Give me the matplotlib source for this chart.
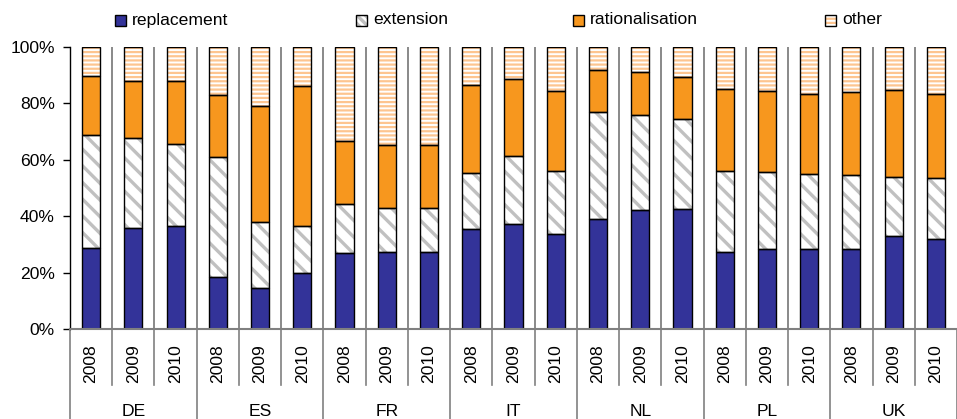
import matplotlib
matplotlib.use('Agg')
import matplotlib.pyplot as plt
import matplotlib.transforms as mtransforms
from matplotlib.patches import Rectangle
import numpy as np

plt.rcParams['font.family'] = ['Liberation Sans', 'DejaVu Sans']

countries = ['DE', 'ES', 'FR', 'IT', 'NL', 'PL', 'UK']
years = ['2008', '2009', '2010']

# shares in % per country/year, in the order DE..UK x 2008..2010
replacement = [28.6, 35.8, 36.6, 18.6, 14.7, 19.7, 26.9, 27.4, 27.4,
               35.4, 37.4, 33.7, 38.9, 42.1, 42.5, 27.4, 28.2, 28.5,
               28.2, 32.9, 31.8]
extension = [40.2, 31.8, 29.1, 42.3, 23.4, 16.9, 17.3, 15.5, 15.5,
             20.0, 24.0, 22.4, 38.2, 33.7, 31.8, 28.7, 27.6, 26.5,
             26.4, 21.0, 21.6]
rationalisation = [21.0, 20.2, 22.1, 22.1, 40.9, 49.4, 22.4, 22.5, 22.5,
                   31.3, 27.3, 28.2, 14.8, 15.4, 14.9, 29.0, 28.5, 28.5,
                   29.4, 30.8, 30.1]
other = [10.2, 12.2, 12.2, 17.0, 21.0, 14.0, 33.4, 34.6, 34.6,
         13.3, 11.3, 15.7, 8.1, 8.8, 10.8, 14.9, 15.7, 16.5,
         16.0, 15.3, 16.5]

# name, values, face, hatch colour, hatch, hatch linewidth, legend hatch
series = [
    ('replacement', replacement, '#333399', None, None, None, None),
    ('extension', extension, 'white', '#c0c0c0', '\\\\', 2.4, '\\\\\\\\'),
    ('rationalisation', rationalisation, '#f7971e', None, None, None, None),
    ('other', other, 'white', '#fdc590', '----', 1.6, '----'),
]


def hatched(make, hlw):
    with plt.rc_context({'hatch.linewidth': hlw}):
        artists = make()
    for a in artists:
        if hasattr(a, 'set_hatch_linewidth'):
            a.set_hatch_linewidth(hlw)
    return artists


fig = plt.figure(figsize=(9.57, 4.19), dpi=100)
ax = fig.add_axes([70 / 957, 1 - 329 / 419, 887 / 957, 282 / 419])

n = len(replacement)
x = np.arange(n)
width = 0.43
bottom = np.zeros(n)
for name, vals, face, hcolor, hatch, hlw, lhatch in series:
    vals = np.array(vals)
    if hatch:
        hatched(lambda: ax.bar(x, vals, width, bottom=bottom, color=face,
                               edgecolor=hcolor, hatch=hatch, linewidth=0,
                               zorder=3), hlw)
    else:
        ax.bar(x, vals, width, bottom=bottom, color=face, linewidth=0, zorder=3)
    ax.bar(x, vals, width, bottom=bottom, fill=False, edgecolor='black',
           linewidth=1.0, zorder=4)
    bottom += vals

ax.set_xlim(-0.5, n - 0.5)
ax.set_ylim(0, 100)

# separators between bars
for b in np.arange(0.5, n - 0.5, 1):
    ax.plot([b, b], [0, 100], color='#808080', lw=1.3, zorder=1)

for s in ['top', 'right', 'bottom']:
    ax.spines[s].set_visible(False)
ax.spines['left'].set_color('black')
ax.spines['left'].set_linewidth(1.0)
ax.axhline(0, color='#808080', lw=1.5, zorder=5, clip_on=False)

ax.set_yticks(np.arange(0, 101, 20))
ax.set_yticklabels([f'{v}%' for v in range(0, 101, 20)], fontsize=12.6)
ax.tick_params(axis='y', length=5, width=1, direction='out', pad=6)
ax.set_xticks([])

# two-level category axis below the plot
trans = mtransforms.blended_transform_factory(ax.transData, ax.transAxes)
for b in np.arange(-0.5, n + 0.5, 1):
    idx = int(b + 0.5)
    low = -0.33 if idx % 3 == 0 else -0.199
    ax.plot([b, b], [0, low], color='#808080', lw=1.2, transform=trans,
            clip_on=False)
for i in range(n):
    ax.text(i, -0.124, years[i % 3], rotation=90, ha='center', va='center',
            fontsize=12.6, transform=trans)
for g, c in enumerate(countries):
    ax.text(g * 3 + 1, -0.266, c, ha='center', va='top', fontsize=12.6,
            transform=trans)

# legend row
legend_x = [115, 356, 573, 825]
for (name, vals, face, hcolor, hatch, hlw, lhatch), lx in zip(series, legend_x):
    y0 = 1 - 26 / 419
    box = (lx / 957, y0)
    if hatch:
        p = hatched(lambda: [Rectangle(box, 11 / 957, 11 / 419,
                                       transform=fig.transFigure,
                                       facecolor=face, edgecolor=hcolor,
                                       hatch=lhatch, linewidth=0)], hlw)[0]
        fig.patches.append(p)
        fig.patches.append(Rectangle(box, 11 / 957, 11 / 419,
                                     transform=fig.transFigure, fill=False,
                                     edgecolor='black', linewidth=1.0))
    else:
        fig.patches.append(Rectangle(box, 11 / 957, 11 / 419,
                                     transform=fig.transFigure, facecolor=face,
                                     edgecolor='black', linewidth=1.0))
    fig.text((lx + 17) / 957, 1 - 20 / 419, name, ha='left', va='center',
             fontsize=12.6)

fig.savefig('out.png', dpi=100)
